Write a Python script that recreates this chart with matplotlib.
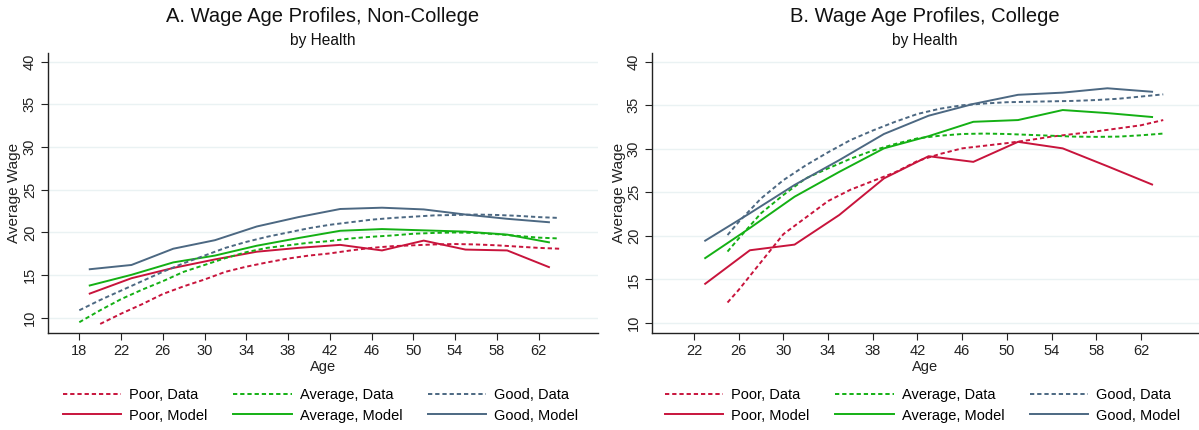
import matplotlib
matplotlib.use("Agg")
import matplotlib.pyplot as plt
import numpy as np

plt.rcParams['font.family'] = ['Liberation Sans', 'DejaVu Sans']

# ---- Panel A: Non-College ----
ageA_model = [19, 23, 27, 31, 35, 39, 43, 47, 51, 55, 59, 63]
A_good_model = [15.7, 16.2, 18.1, 19.1, 20.7, 21.8, 22.75, 22.9, 22.7, 22.1, 21.6, 21.2]
A_avg_model = [13.8, 15.05, 16.5, 17.3, 18.45, 19.35, 20.2, 20.4, 20.25, 20.1, 19.75, 18.85]
A_poor_model = [12.85, 14.65, 15.85, 16.85, 17.75, 18.2, 18.55, 17.9, 19.05, 18.0, 17.9, 15.95]

ageA_data = [18, 20, 22, 24, 26, 28, 30, 32, 34, 36, 38, 40, 42, 44, 46, 48, 50, 52, 54, 56, 58, 60, 62, 64]
A_good_data = [10.9, 12.1, 13.2, 14.3, 15.4, 16.4, 17.3, 18.2, 18.9, 19.5, 20.0, 20.5, 20.9, 21.2,
               21.5, 21.7, 21.85, 22.0, 22.05, 22.1, 22.05, 21.95, 21.8, 21.7]
A_avg_data = [9.5, 10.9, 12.2, 13.3, 14.3, 15.4, 16.2, 17.0, 17.7, 18.2, 18.5, 18.8, 19.0, 19.3,
              19.5, 19.65, 19.85, 19.95, 20.0, 19.95, 19.8, 19.6, 19.4, 19.3]
ageA_poor_data = ageA_data[1:]
A_poor_data = [9.3, 10.5, 11.6, 12.8, 13.7, 14.5, 15.4, 16.0, 16.5, 16.95, 17.3, 17.55, 17.9,
               18.2, 18.4, 18.5, 18.6, 18.65, 18.6, 18.5, 18.35, 18.2, 18.1]

# ---- Panel B: College ----
ageB_model = [23, 27, 31, 35, 39, 43, 47, 51, 55, 59, 63]
B_good_model = [19.45, 22.6, 25.85, 28.7, 31.7, 33.8, 35.15, 36.2, 36.45, 36.95, 36.55]
B_avg_model = [17.45, 20.9, 24.5, 27.35, 30.05, 31.45, 33.1, 33.3, 34.45, 34.1, 33.65]
B_poor_model = [14.5, 18.35, 19.0, 22.4, 26.6, 29.15, 28.5, 30.8, 30.05, 28.0, 25.9]

ageB_data = [25, 26, 28, 30, 32, 34, 36, 38, 40, 42, 44, 46, 48, 50, 52, 54, 56, 58, 60, 62, 64]
B_good_data = [20.1, 21.6, 24.3, 26.4, 28.1, 29.6, 31.0, 32.1, 33.1, 34.0, 34.6, 35.0, 35.2,
               35.35, 35.4, 35.45, 35.5, 35.6, 35.75, 36.0, 36.25]
B_avg_data = [18.2, 19.7, 22.6, 24.7, 26.6, 27.75, 28.85, 29.8, 30.55, 31.2, 31.5, 31.7, 31.75,
              31.7, 31.6, 31.5, 31.4, 31.37, 31.4, 31.55, 31.75]
B_poor_data = [12.35, 13.8, 17.0, 20.2, 22.1, 24.0, 25.3, 26.3, 27.3, 28.6, 29.4, 30.05, 30.35,
               30.65, 31.0, 31.4, 31.7, 32.0, 32.35, 32.7, 33.3]

yticks = [10, 15, 20, 25, 30, 35, 40]
xticksA = list(range(18, 63, 4))
xticksB = list(range(22, 63, 4))

RED = '#C8143C'
GREEN = '#14B014'
BLUE = '#4C6882'
DASH = (2.2, 1.5)

fig = plt.figure(figsize=(11.99, 4.30), dpi=100)
axA = fig.add_axes([48/1199, 97/430, 550/1199, 280/430])
axB = fig.add_axes([652/1199, 97/430, 547/1199, 280/430])


def draw(ax, ad, poor_ad, pd_, avd, gd, am, pm, avm, gm, xt, xlim, ylim):
    lines = []
    lines.append(ax.plot(poor_ad, pd_, color=RED, lw=1.4, dashes=DASH, label='Poor, Data')[0])
    lines.append(ax.plot(am, pm, color=RED, lw=1.4, label='Poor, Model')[0])
    lines.append(ax.plot(ad, avd, color=GREEN, lw=1.4, dashes=DASH, label='Average, Data')[0])
    lines.append(ax.plot(am, avm, color=GREEN, lw=1.4, label='Average, Model')[0])
    lines.append(ax.plot(ad, gd, color=BLUE, lw=1.4, dashes=DASH, label='Good, Data')[0])
    lines.append(ax.plot(am, gm, color=BLUE, lw=1.4, label='Good, Model')[0])
    ax.set_xlim(*xlim)
    ax.set_ylim(*ylim)
    ax.set_xticks(xt)
    ax.set_yticks(yticks)
    ax.grid(axis='y', color='#EAF2F3', lw=1.0)
    ax.set_axisbelow(True)
    for s in ['top', 'right']:
        ax.spines[s].set_visible(False)
    for s in ['left', 'bottom']:
        ax.spines[s].set_color('#222222')
        ax.spines[s].set_linewidth(1.0)
    ax.tick_params(axis='both', length=5, width=0.8, color='#222222', labelsize=10.5,
                   labelcolor='#222222', pad=3)
    for lab in ax.get_yticklabels():
        lab.set_rotation(90)
        lab.set_va('center')
    ax.set_xlabel('Age', fontsize=10.5, labelpad=1, color='#222222')
    ax.set_ylabel('Average Wage', fontsize=11, labelpad=1, color='#222222')
    return lines


linesA = draw(axA, ageA_data, ageA_poor_data, A_poor_data, A_avg_data, A_good_data,
              ageA_model, A_poor_model, A_avg_model, A_good_model, xticksA, (15.0, 67.7), (8.24, 41.0))
linesB = draw(axB, ageB_data, ageB_data, B_poor_data, B_avg_data, B_good_data,
              ageB_model, B_poor_model, B_avg_model, B_good_model, xticksB, (18.24, 67.2), (8.85, 41.0))

for lines, x0 in [(linesA, 63/1199), (linesB, 665/1199)]:
    fig.legend(handles=lines, loc='upper left', bbox_to_anchor=(x0, 1 - 388/430), ncol=3,
               frameon=False, fontsize=10.5, handlelength=4.0, handletextpad=0.55,
               columnspacing=1.75, labelspacing=0.45, borderpad=0, borderaxespad=0)

fig.text(323/1199, 1 - 16/430, 'A. Wage Age Profiles, Non-College', ha='center', va='center',
         fontsize=14.5, color='#111111')
fig.text(323/1199, 1 - 40/430, 'by Health', ha='center', va='center', fontsize=11.2, color='#111111')
fig.text(925/1199, 1 - 16/430, 'B. Wage Age Profiles, College', ha='center', va='center',
         fontsize=14.5, color='#111111')
fig.text(925/1199, 1 - 40/430, 'by Health', ha='center', va='center', fontsize=11.2, color='#111111')

fig.savefig('out.png', dpi=100)
